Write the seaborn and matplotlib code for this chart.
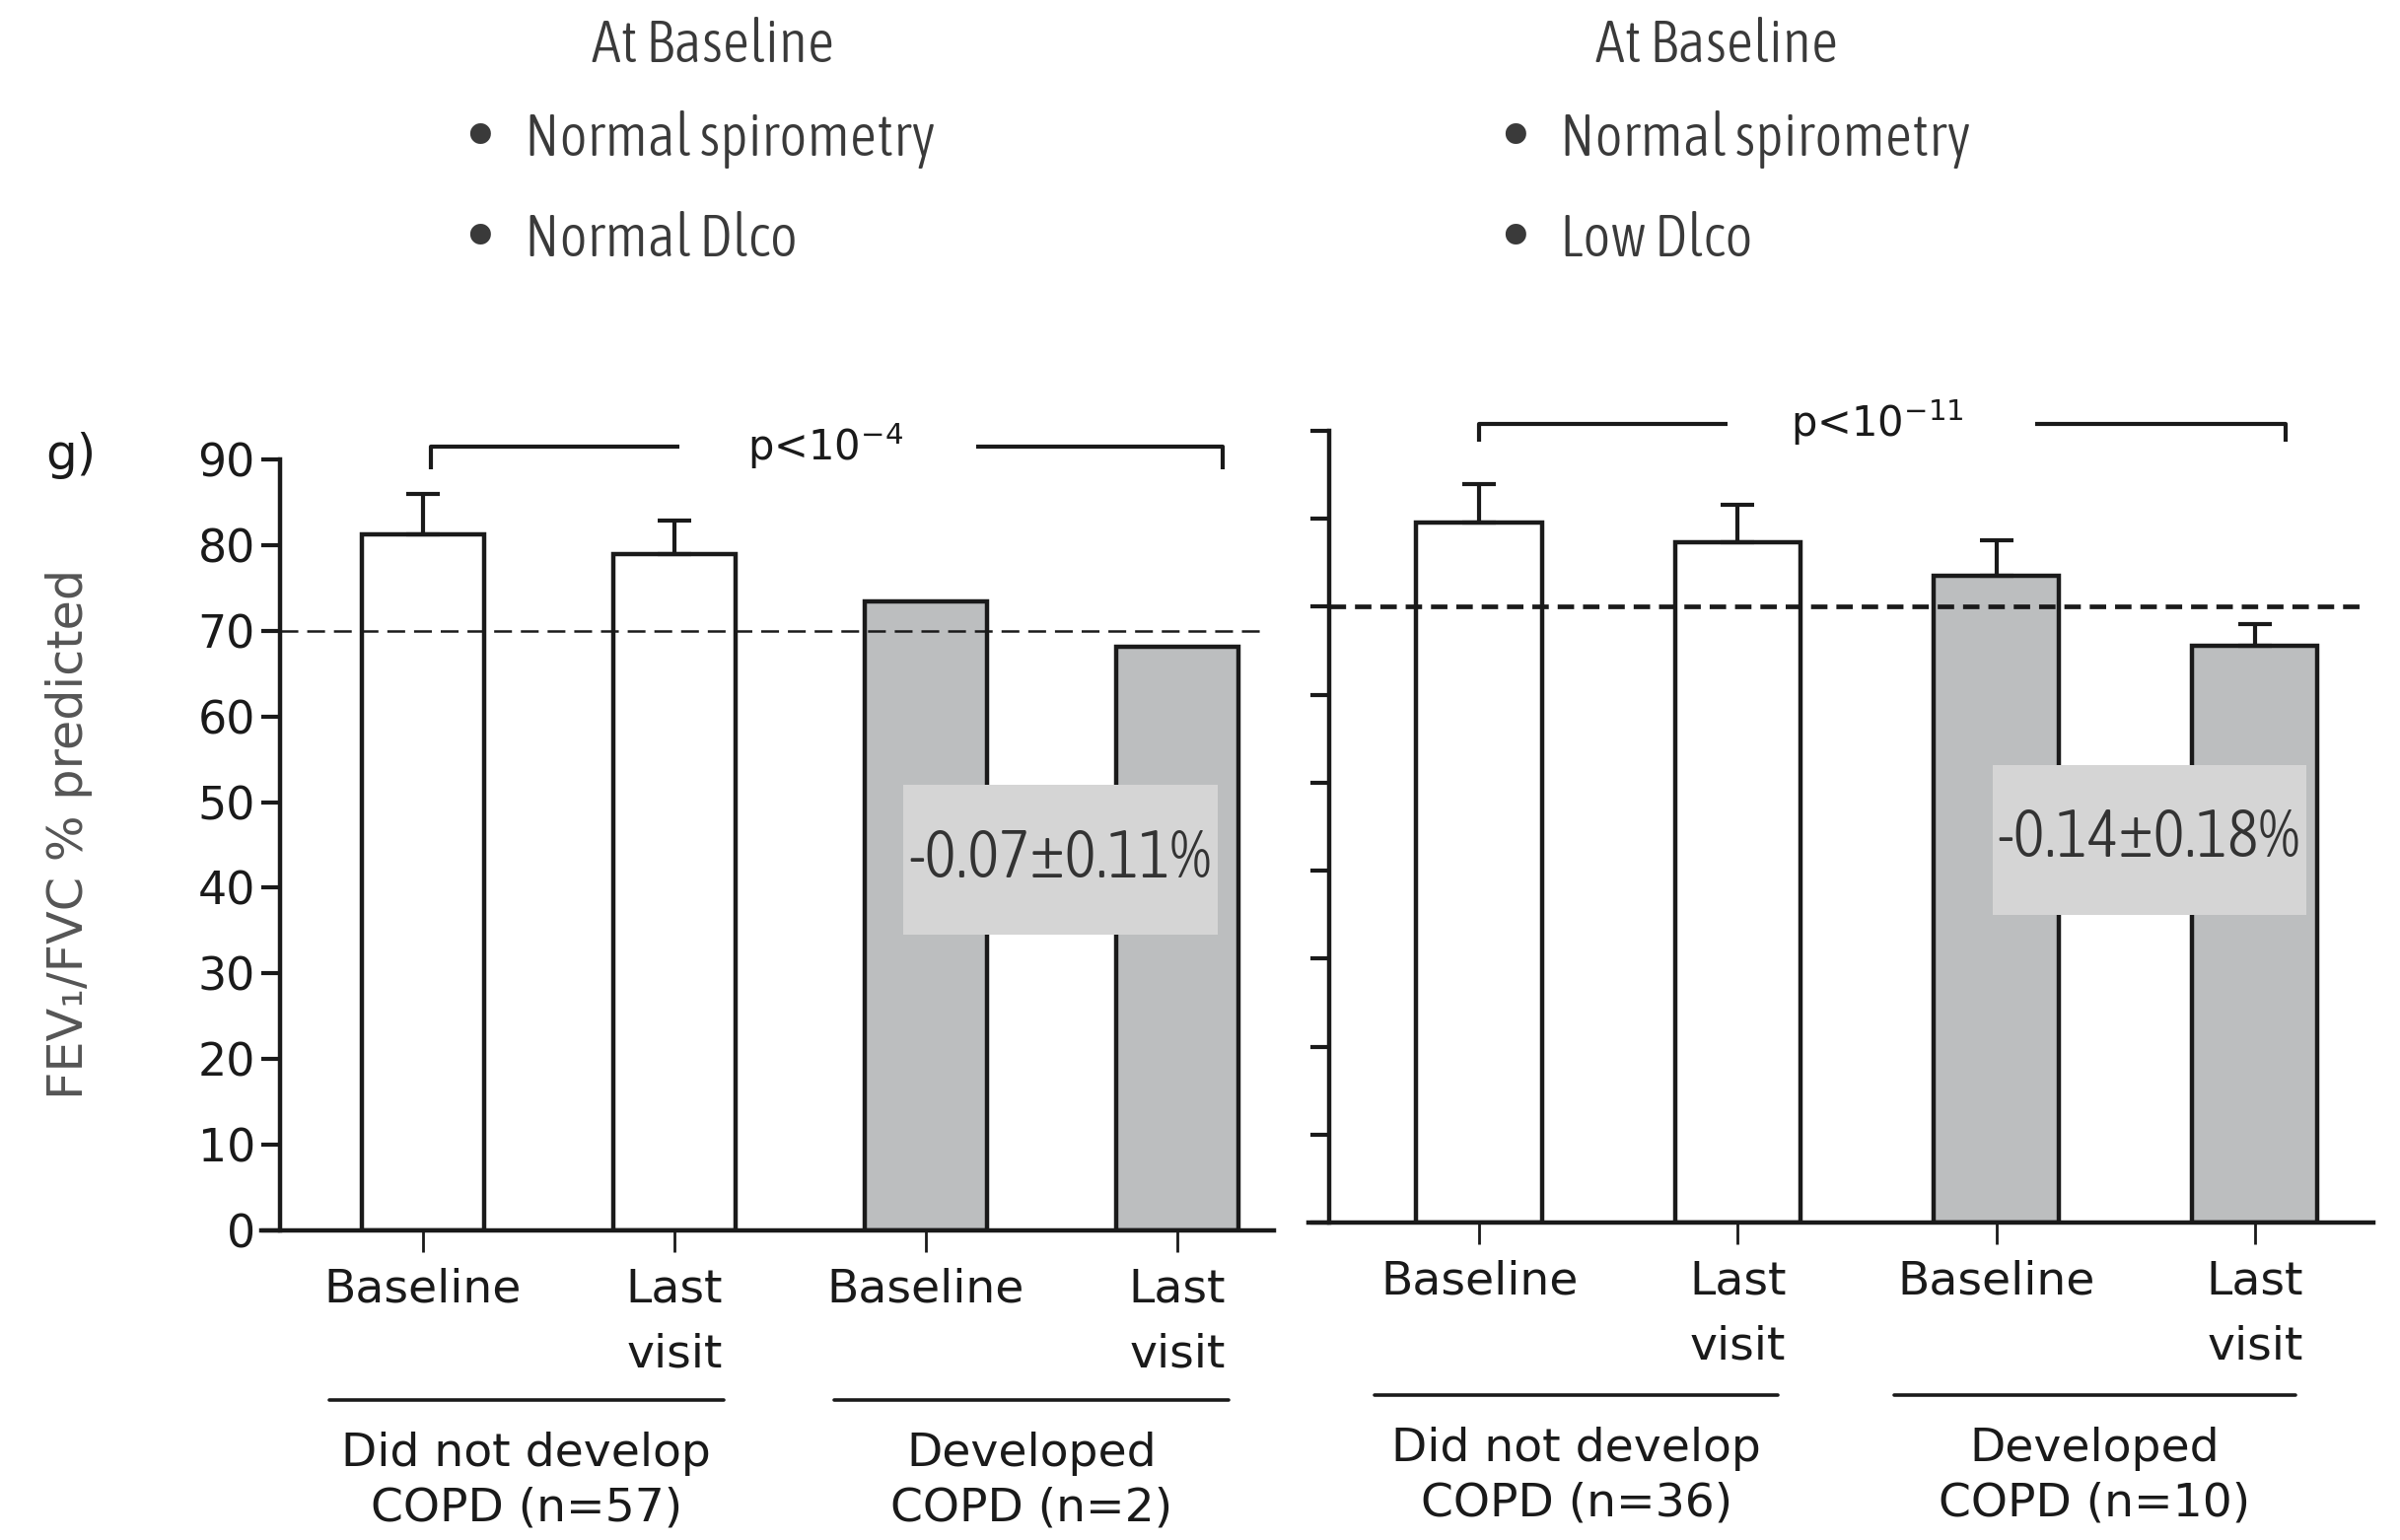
import numpy as np
import pandas as pd
import matplotlib
matplotlib.use("Agg")
import matplotlib.pyplot as plt
import matplotlib.transforms as mtransforms
from matplotlib.patches import Rectangle
from matplotlib import font_manager as fm
import seaborn as sns

# ---------------- data ----------------
bar_keys = ["noCOPD_base", "noCOPD_last", "COPD_base", "COPD_last"]
tick_labels = ["Baseline", "Last\nvisit", "Baseline", "Last\nvisit"]
left_values = [81.2, 79.0, 73.4, 68.1]
left_err_top = [86.0, 82.9, np.nan, np.nan]
right_values = [79.6, 77.3, 73.5, 65.6]
right_err_top = [84.0, 81.6, 77.6, 68.0]
left_groups = ["Did not develop\nCOPD (n=57)", "Developed\nCOPD (n=2)"]
right_groups = ["Did not develop\nCOPD (n=36)", "Developed\nCOPD (n=10)"]
header_title = "At Baseline"
left_header = ["Normal spirometry", "Normal Dlco"]
right_header = ["Normal spirometry", "Low Dlco"]
left_p = r"p<10$^{-4}$"
right_p = r"p<10$^{-11}$"
left_change = "-0.07\u00b10.11%"
right_change = "-0.14\u00b10.18%"
threshold = 70
y_ticks = [0, 10, 20, 30, 40, 50, 60, 70, 80, 90]
bar_colors = ["#ffffff", "#ffffff", "#bcbebf", "#bcbebf"]
y_label = "FEV\u2081/FVC % predicted"
panel_tag = "g)"

# ---------------- style ----------------
sns.set_style("ticks")
plt.rcParams["font.family"] = ["DejaVu Sans"]
plt.rcParams["lines.scale_dashes"] = False
INK = "#1a1a1a"
W, H = 2434, 1562
fig = plt.figure(figsize=(W / 100, H / 100), dpi=100)


# find a condensed / narrow font if one is installed
def _weight(w):
    if isinstance(w, (int, float)):
        return w
    return fm.weight_dict.get(str(w).lower(), 400)


def _narrow_font():
    best, best_score = None, None
    for f in fm.fontManager.ttflist:
        desc = (f.name + " " + str(f.stretch) + " " + f.fname).lower()
        if not ("condensed" in desc or "narrow" in desc):
            continue
        if f.style != "normal" or "cjk" in desc or "mono" in desc:
            continue
        score = abs(_weight(f.weight) - 330) / 100.0
        if "extra" in desc or "ultra" in desc:
            score += 1.5
        if "semi" in desc:
            score += 0.7
        if best_score is None or score < best_score:
            best, best_score = f, score
    return best


_nf = _narrow_font()


def narrow(size):
    if _nf is not None:
        return fm.FontProperties(fname=_nf.fname, size=size)
    return fm.FontProperties(family="DejaVu Sans", size=size)


def fx(px):
    return px / W


def fy(py):
    return 1 - py / H


renderer = fig.canvas.get_renderer()


def fitted_size(text, target_px, base=40.0):
    t = fig.text(0, 0, text, fontproperties=narrow(base))
    w = t.get_window_extent(renderer=renderer).width
    t.remove()
    return base * target_px / w


def draw_panel(ax, values, err_top, xlim, spine_x, dash_end, dash_lw, dash_pat,
               bracket, p_text, p_xy, box, change, change_xy, groups,
               group_lines, group_text_y, group_line_y, show_labels):
    df = pd.DataFrame({"key": bar_keys, "value": values})
    sns.barplot(data=df, x="key", y="value", hue="key", order=bar_keys,
                hue_order=bar_keys, palette=bar_colors, width=0.485,
                edgecolor=INK, linewidth=3.2, legend=False, errorbar=None,
                ax=ax, zorder=2)
    xs = np.arange(len(values))
    v = np.asarray(values, float)
    top = np.asarray(err_top, float)
    m = ~np.isnan(top)
    ax.errorbar(xs[m], v[m], yerr=[np.zeros(m.sum()), (top - v)[m]],
                fmt="none", ecolor=INK, elinewidth=3.0, capsize=12,
                capthick=3.0, zorder=3)
    ax.set_xlim(*xlim)
    ax.set_ylim(0, 90)
    ax.set_yticks(y_ticks)
    ax.set_xticks(xs)
    ax.set_xticklabels(tick_labels)
    ax.set_xlabel("")
    ax.set_ylabel("")
    for s in ["top", "right"]:
        ax.spines[s].set_visible(False)
    ax.spines["left"].set_position(("data", spine_x))
    ax.spines["left"].set_bounds(0, 90)
    for s in ["left", "bottom"]:
        ax.spines[s].set_linewidth(3.2)
        ax.spines[s].set_color(INK)
    ax.tick_params(axis="y", direction="out", length=14, width=3.0,
                   color=INK, labelsize=33, pad=4, labelcolor=INK,
                   labelleft=show_labels)
    ax.tick_params(axis="x", direction="out", length=16, width=2.0,
                   color=INK, labelsize=34, pad=11, labelcolor=INK)
    for lbl in ax.get_xticklabels():
        lbl.set_linespacing(1.6)
    ax.hlines(threshold, spine_x, dash_end, colors=INK, linewidth=dash_lw,
              linestyles=[(0, dash_pat)], zorder=4)
    bx0, bx1, g0, g1, by, bdrop = bracket
    kw = dict(color=INK, lw=3.0, clip_on=False, solid_capstyle="butt")
    ax.plot([bx0, bx0, g0], [bdrop, by, by], **kw)
    ax.plot([g1, bx1, bx1], [by, by, bdrop], **kw)
    ax.text(p_xy[0], p_xy[1], p_text, ha="center", va="baseline",
            fontsize=30, color=INK, clip_on=False)
    x0, x1, y0, y1 = box
    ax.add_patch(Rectangle((x0, y0), x1 - x0, y1 - y0, facecolor="#d5d5d5",
                           edgecolor="none", zorder=5))
    ax.text(change_xy[0], change_xy[1], change, ha="center", va="center",
            fontproperties=narrow(box_size), color="#333333", zorder=6)
    tr = mtransforms.blended_transform_factory(ax.transData, fig.transFigure)
    for (gx0, gx1), name in zip(group_lines, groups):
        ax.plot([gx0, gx1], [group_line_y, group_line_y], color=INK, lw=2.6,
                transform=tr, clip_on=False)
        ax.text((gx0 + gx1) / 2, group_text_y, name, transform=tr,
                ha="center", va="center", fontsize=34, color=INK,
                linespacing=1.3)


box_size = fitted_size(left_change, 307)
head_size = fitted_size("Normal spirometry", 416)

# left panel
axL = fig.add_axes([fx(265), fy(1248), fx(1292 - 265), (1248 - 466) / H])
draw_panel(axL, left_values, left_err_top,
           xlim=(-0.643, 3.384), spine_x=-0.569, dash_end=3.35,
           dash_lw=1.8, dash_pat=(13, 6.5),
           bracket=(0.03, 3.18, 1.02, 2.20, 91.5, 88.9),
           p_text=left_p, p_xy=(1.6, 89.9),
           box=(1.91, 3.16, 34.5, 52.0), change=left_change,
           change_xy=(2.535, 43.3), groups=left_groups,
           group_lines=[(-0.373, 1.196), (1.635, 3.204)],
           group_text_y=fy(1502), group_line_y=fy(1420), show_labels=True)

# right panel
axR = fig.add_axes([fx(1327), fy(1240), fx(2407 - 1327), (1240 - 437) / H])
draw_panel(axR, right_values, right_err_top,
           xlim=(-0.66, 3.458), spine_x=-0.58, dash_end=3.416,
           dash_lw=3.4, dash_pat=(12, 6.5),
           bracket=(0.0, 3.12, 0.96, 2.15, 90.8, 88.8),
           p_text=right_p, p_xy=(1.54, 89.3),
           box=(1.986, 3.2, 35.0, 52.0), change=right_change,
           change_xy=(2.59, 43.7), groups=right_groups,
           group_lines=[(-0.404, 1.155), (1.605, 3.157)],
           group_text_y=fy(1497), group_line_y=fy(1415), show_labels=False)

# header texts
HEAD = "#3a3a3a"
for cx, bullet_x, text_x, items in [(723, 487, 532, left_header),
                                    (1741, 1536, 1582, right_header)]:
    fig.text(fx(cx), fy(63), header_title, ha="center", va="baseline",
             fontproperties=narrow(head_size), color=HEAD)
    for yb, item in zip([158, 260], items):
        fig.text(fx(bullet_x), fy(yb + 4), "\u2022", ha="center",
                 va="baseline", fontsize=52, family="DejaVu Sans",
                 color=HEAD)
        fig.text(fx(text_x), fy(yb), item, ha="left", va="baseline",
                 fontproperties=narrow(head_size), color=HEAD)

fig.text(fx(72), fy(462), panel_tag, ha="center", va="center", fontsize=36,
         color=INK)
fig.text(fx(70), fy(846), y_label, rotation=90, ha="center", va="center",
         fontsize=35.5, color="#555555")

fig.savefig("out.png", dpi=100)
